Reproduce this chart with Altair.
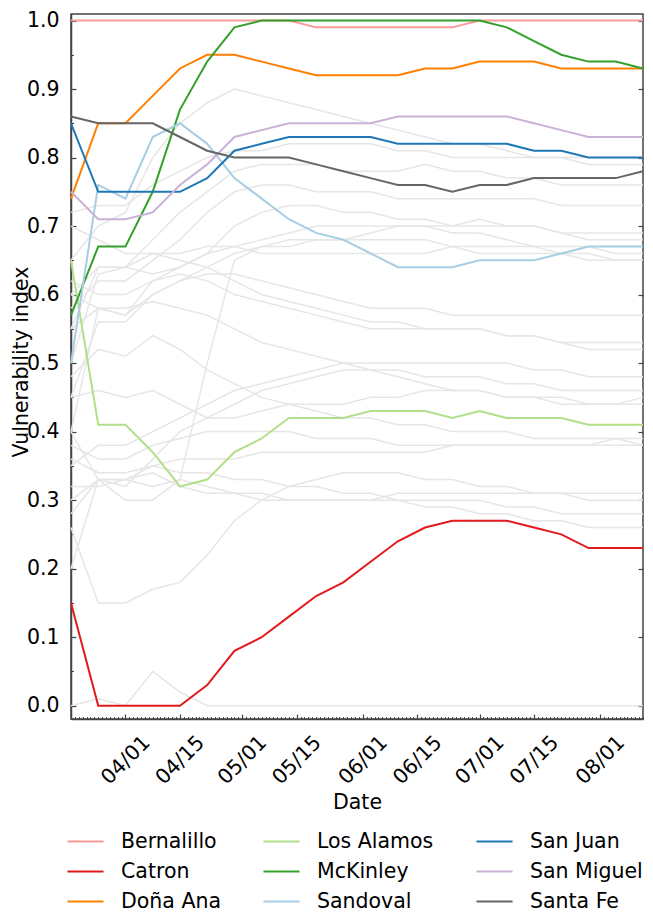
import altair as alt
import pandas as pd

dates = ["2020-03-18", "2020-03-25", "2020-04-01", "2020-04-08", "2020-04-15",
         "2020-04-22", "2020-04-29", "2020-05-06", "2020-05-13", "2020-05-20",
         "2020-05-27", "2020-06-03", "2020-06-10", "2020-06-17", "2020-06-24",
         "2020-07-01", "2020-07-08", "2020-07-15", "2020-07-22", "2020-07-29",
         "2020-08-05", "2020-08-12"]

bernalillo = [1.00, 1.00, 1.00, 1.00, 1.00, 1.00, 1.00, 1.00, 1.00, 0.99, 0.99,
              0.99, 0.99, 0.99, 0.99, 1.00, 1.00, 1.00, 1.00, 1.00, 1.00, 1.00]
catron = [0.15, 0.00, 0.00, 0.00, 0.00, 0.03, 0.08, 0.10, 0.13, 0.16, 0.18,
          0.21, 0.24, 0.26, 0.27, 0.27, 0.27, 0.26, 0.25, 0.23, 0.23, 0.23]
dona_ana = [0.74, 0.85, 0.85, 0.89, 0.93, 0.95, 0.95, 0.94, 0.93, 0.92, 0.92,
            0.92, 0.92, 0.93, 0.93, 0.94, 0.94, 0.94, 0.93, 0.93, 0.93, 0.93]
los_alamos = [0.65, 0.41, 0.41, 0.37, 0.32, 0.33, 0.37, 0.39, 0.42, 0.42, 0.42,
              0.43, 0.43, 0.43, 0.42, 0.43, 0.42, 0.42, 0.42, 0.41, 0.41, 0.41]
mckinley = [0.57, 0.67, 0.67, 0.75, 0.87, 0.94, 0.99, 1.00, 1.00, 1.00, 1.00,
            1.00, 1.00, 1.00, 1.00, 1.00, 0.99, 0.97, 0.95, 0.94, 0.94, 0.93]
sandoval = [0.50, 0.76, 0.74, 0.83, 0.85, 0.82, 0.77, 0.74, 0.71, 0.69, 0.68,
            0.66, 0.64, 0.64, 0.64, 0.65, 0.65, 0.65, 0.66, 0.67, 0.67, 0.67]
san_juan = [0.85, 0.75, 0.75, 0.75, 0.75, 0.77, 0.81, 0.82, 0.83, 0.83, 0.83,
            0.83, 0.82, 0.82, 0.82, 0.82, 0.82, 0.81, 0.81, 0.80, 0.80, 0.80]
san_miguel = [0.75, 0.71, 0.71, 0.72, 0.76, 0.79, 0.83, 0.84, 0.85, 0.85, 0.85,
              0.85, 0.86, 0.86, 0.86, 0.86, 0.86, 0.85, 0.84, 0.83, 0.83, 0.83]
santa_fe = [0.86, 0.85, 0.85, 0.85, 0.83, 0.81, 0.80, 0.80, 0.80, 0.79, 0.78,
            0.77, 0.76, 0.76, 0.75, 0.76, 0.76, 0.77, 0.77, 0.77, 0.77, 0.78]

highlight_names = ["Bernalillo", "Catron", "Doña Ana", "Los Alamos", "McKinley",
                   "Sandoval", "San Juan", "San Miguel", "Santa Fe"]
highlight_values = [bernalillo, catron, dona_ana, los_alamos, mckinley,
                    sandoval, san_juan, san_miguel, santa_fe]
highlight_colors = ["#fb9a99", "#e31a1c", "#ff7f00", "#b2df8a", "#33a02c",
                    "#a6cee3", "#1f78b4", "#cab2d6", "#666666"]

other_counties = [
    [0.65, 0.70, 0.72, 0.80, 0.85, 0.88, 0.90, 0.89, 0.88, 0.87, 0.86, 0.85, 0.84, 0.83, 0.82, 0.82, 0.81, 0.80, 0.80, 0.79, 0.79, 0.79],
    [0.72, 0.73, 0.73, 0.76, 0.78, 0.80, 0.81, 0.81, 0.82, 0.82, 0.82, 0.82, 0.81, 0.81, 0.80, 0.80, 0.80, 0.80, 0.80, 0.80, 0.80, 0.80],
    [0.60, 0.64, 0.64, 0.68, 0.72, 0.75, 0.78, 0.79, 0.79, 0.79, 0.78, 0.78, 0.78, 0.79, 0.78, 0.78, 0.77, 0.77, 0.76, 0.76, 0.76, 0.76],
    [0.58, 0.62, 0.62, 0.65, 0.68, 0.72, 0.75, 0.76, 0.76, 0.75, 0.75, 0.75, 0.74, 0.74, 0.74, 0.74, 0.74, 0.74, 0.73, 0.73, 0.73, 0.73],
    [0.55, 0.58, 0.57, 0.62, 0.64, 0.66, 0.70, 0.72, 0.73, 0.73, 0.72, 0.72, 0.71, 0.71, 0.70, 0.71, 0.70, 0.70, 0.69, 0.69, 0.69, 0.69],
    [0.30, 0.33, 0.30, 0.30, 0.33, 0.50, 0.65, 0.67, 0.68, 0.68, 0.68, 0.68, 0.68, 0.68, 0.67, 0.67, 0.67, 0.67, 0.67, 0.67, 0.66, 0.66],
    [0.45, 0.56, 0.56, 0.60, 0.62, 0.64, 0.66, 0.67, 0.67, 0.68, 0.68, 0.69, 0.70, 0.70, 0.69, 0.69, 0.68, 0.67, 0.66, 0.65, 0.65, 0.65],
    [0.50, 0.63, 0.64, 0.63, 0.64, 0.66, 0.67, 0.68, 0.69, 0.70, 0.70, 0.70, 0.70, 0.70, 0.70, 0.70, 0.70, 0.70, 0.69, 0.68, 0.68, 0.68],
    [0.40, 0.58, 0.57, 0.60, 0.62, 0.63, 0.63, 0.62, 0.61, 0.60, 0.59, 0.58, 0.58, 0.58, 0.57, 0.57, 0.57, 0.57, 0.57, 0.57, 0.57, 0.57],
    [0.48, 0.52, 0.51, 0.54, 0.52, 0.49, 0.47, 0.45, 0.44, 0.43, 0.42, 0.42, 0.41, 0.41, 0.40, 0.40, 0.40, 0.39, 0.39, 0.39, 0.39, 0.38],
    [0.62, 0.60, 0.60, 0.62, 0.63, 0.62, 0.60, 0.59, 0.58, 0.57, 0.56, 0.55, 0.55, 0.55, 0.55, 0.55, 0.54, 0.54, 0.53, 0.53, 0.53, 0.53],
    [0.70, 0.68, 0.66, 0.66, 0.65, 0.64, 0.62, 0.60, 0.59, 0.58, 0.57, 0.56, 0.56, 0.55, 0.55, 0.55, 0.54, 0.54, 0.53, 0.52, 0.52, 0.52],
    [0.35, 0.38, 0.38, 0.40, 0.42, 0.44, 0.46, 0.47, 0.48, 0.49, 0.50, 0.50, 0.50, 0.50, 0.50, 0.50, 0.50, 0.49, 0.49, 0.48, 0.48, 0.48],
    [0.40, 0.33, 0.32, 0.36, 0.40, 0.42, 0.44, 0.46, 0.47, 0.48, 0.49, 0.49, 0.49, 0.48, 0.48, 0.48, 0.47, 0.47, 0.46, 0.46, 0.46, 0.46],
    [0.45, 0.46, 0.45, 0.46, 0.44, 0.42, 0.42, 0.43, 0.44, 0.44, 0.44, 0.45, 0.45, 0.46, 0.46, 0.46, 0.45, 0.45, 0.45, 0.44, 0.44, 0.44],
    [0.38, 0.36, 0.36, 0.38, 0.39, 0.40, 0.40, 0.40, 0.40, 0.39, 0.39, 0.39, 0.38, 0.38, 0.38, 0.38, 0.38, 0.38, 0.38, 0.38, 0.39, 0.39],
    [0.32, 0.32, 0.33, 0.35, 0.36, 0.36, 0.36, 0.37, 0.37, 0.37, 0.37, 0.37, 0.37, 0.37, 0.38, 0.38, 0.38, 0.38, 0.38, 0.38, 0.38, 0.38],
    [0.28, 0.33, 0.33, 0.34, 0.32, 0.31, 0.31, 0.30, 0.30, 0.30, 0.30, 0.30, 0.31, 0.31, 0.31, 0.31, 0.31, 0.31, 0.31, 0.31, 0.31, 0.31],
    [0.26, 0.15, 0.15, 0.17, 0.18, 0.22, 0.27, 0.30, 0.32, 0.33, 0.34, 0.34, 0.34, 0.33, 0.33, 0.32, 0.32, 0.31, 0.31, 0.30, 0.30, 0.30],
    [0.36, 0.34, 0.34, 0.35, 0.34, 0.34, 0.33, 0.33, 0.32, 0.32, 0.31, 0.31, 0.30, 0.30, 0.30, 0.30, 0.29, 0.29, 0.28, 0.28, 0.28, 0.28],
    [0.20, 0.33, 0.33, 0.32, 0.33, 0.32, 0.31, 0.31, 0.30, 0.30, 0.30, 0.30, 0.30, 0.29, 0.29, 0.28, 0.28, 0.27, 0.27, 0.26, 0.26, 0.26],
    [0.00, 0.01, 0.00, 0.05, 0.02, 0.00, 0.00, 0.00, 0.00, 0.00, 0.00, 0.00, 0.00, 0.00, 0.00, 0.00, 0.00, 0.00, 0.00, 0.00, 0.00, 0.00],
    [0.55, 0.64, 0.64, 0.66, 0.66, 0.67, 0.67, 0.66, 0.66, 0.66, 0.66, 0.66, 0.66, 0.66, 0.67, 0.66, 0.66, 0.66, 0.66, 0.66, 0.65, 0.65],
    [0.60, 0.58, 0.58, 0.59, 0.58, 0.57, 0.55, 0.53, 0.52, 0.51, 0.50, 0.49, 0.48, 0.47, 0.46, 0.46, 0.45, 0.45, 0.44, 0.44, 0.44, 0.45],
]

major_ticks = [(4, 1), (4, 15), (5, 1), (5, 15), (6, 1), (6, 15), (7, 1), (7, 15), (8, 1)]
y_major = [0.0, 0.1, 0.2, 0.3, 0.4, 0.5, 0.6, 0.7, 0.8, 0.9, 1.0]
y_minor = [0.05, 0.15, 0.25, 0.35, 0.45, 0.55, 0.65, 0.75, 0.85, 0.95]

rows_h = []
for k, (name, vals) in enumerate(zip(highlight_names, highlight_values)):
    for d, v in zip(dates, vals):
        rows_h.append({"date": d + "T00:00:00", "county": name, "value": v, "order_key": k})
df_h = pd.DataFrame(rows_h)

rows_g = []
for k, vals in enumerate(other_counties):
    for d, v in zip(dates, vals):
        rows_g.append({"date": d + "T00:00:00", "county": f"other{k:02d}", "value": v})
df_g = pd.DataFrame(rows_g)

FONT = "DejaVu Sans"
FS = 20.5
LFS = 20.5
W, H = 572, 705

major_dt = [alt.DateTime(year=2020, month=m, date=d) for m, d in major_ticks]
minor_dt = [alt.DateTime(year=2020, month=m, date=d)
            for m, n in [(3, 31), (4, 30), (5, 31), (6, 30), (7, 31), (8, 31)]
            for d in range(1, n + 1)
            if not (m == 3 and d < 18) and not (m == 8 and d > 12)]

x_scale = alt.Scale(domain=[alt.DateTime(year=2020, month=3, date=18),
                            alt.DateTime(year=2020, month=8, date=12)], nice=False)
y_scale = alt.Scale(domain=[-0.01941, 1.00949], nice=False, zero=False)

gray = alt.Chart(df_g).mark_line(color="#e6e6e6", strokeWidth=1.5).encode(
    x=alt.X("date:T", scale=x_scale,
            axis=alt.Axis(values=major_dt, format="%m/%d", labelAngle=-45,
                          labelAlign="center", labelBaseline="middle",
                          labelFontSize=FS, labelFont=FONT, labelColor="black",
                          labelPadding=41, tickSize=0, grid=False,
                          domain=True, domainColor="#444444", domainWidth=1.5,
                          title="Date", titleFont=FONT, titleFontSize=FS,
                          titleFontWeight="normal", titleColor="black",
                          titleBaseline="middle", titleY=83, titleX=W / 2,
                          labelOverlap=False)),
    y=alt.Y("value:Q", scale=y_scale,
            axis=alt.Axis(values=y_major, format=".1f",
                          labelFontSize=FS, labelFont=FONT, labelColor="black",
                          labelPadding=12, tickSize=0, grid=False,
                          domain=True, domainColor="#444444", domainWidth=1.5,
                          title="Vulnerability index", titleFont=FONT,
                          titleFontSize=FS, titleFontWeight="normal",
                          titleColor="black", titleBaseline="alphabetic",
                          titleX=-44, titleY=347.5, titleAngle=270)),
    detail="county:N",
)

hl = alt.Chart(df_h).mark_line(strokeWidth=2).encode(
    x=alt.X("date:T", scale=x_scale,
            axis=alt.Axis(orient="bottom", values=major_dt, offset=-5, tickSize=5,
                          tickColor="#444444", tickWidth=1.2, labels=False,
                          domain=False, grid=False, title=None)),
    y=alt.Y("value:Q", scale=y_scale,
            axis=alt.Axis(orient="left", values=y_major, offset=-5, tickSize=5,
                          tickColor="#444444", tickWidth=1.2, labels=False,
                          domain=False, grid=False, title=None)),
    color=alt.Color("county:N",
                    scale=alt.Scale(domain=highlight_names, range=highlight_colors),
                    legend=alt.Legend(title=None, orient="none", legendX=-5,
                                      legendY=808, columns=3,
                                      symbolType="stroke", symbolSize=1300,
                                      symbolStrokeWidth=2, labelFont=FONT,
                                      labelFontSize=LFS, labelColor="black",
                                      labelOffset=16, columnPadding=38,
                                      rowPadding=0, padding=0)),
    order=alt.Order("order_key:Q"),
)

minor = alt.Chart(df_g).mark_line(strokeOpacity=0).encode(
    x=alt.X("date:T", scale=x_scale,
            axis=alt.Axis(orient="bottom", values=minor_dt, offset=-2.5, tickSize=2.5,
                          tickColor="#444444", tickWidth=1, labels=False,
                          domain=False, grid=False, title=None)),
    y=alt.Y("value:Q", scale=y_scale,
            axis=alt.Axis(orient="left", values=y_minor, offset=-2.5, tickSize=2.5,
                          tickColor="#444444", tickWidth=1, labels=False,
                          domain=False, grid=False, title=None)),
    detail="county:N",
)

right = alt.Chart(df_g).mark_line(strokeOpacity=0).encode(
    x=alt.X("date:T", scale=x_scale, axis=None),
    y=alt.Y("value:Q", scale=y_scale,
            axis=alt.Axis(orient="right", values=y_major, offset=-5, tickSize=5,
                          tickColor="#444444", tickWidth=1.2, labels=False,
                          domain=False, grid=False, title=None)),
    detail="county:N",
)

chart = alt.layer(gray, hl, minor, right).resolve_axis(
    x="independent", y="independent"
).properties(
    width=W, height=H,
    padding={"left": 63, "top": 6, "right": 2, "bottom": 195},
    autosize=alt.AutoSizeParams(type="none"),
).configure_view(
    stroke="#444444", strokeWidth=1.5
)

chart.save("out.html", embed_options={"renderer": "svg", "actions": False})
